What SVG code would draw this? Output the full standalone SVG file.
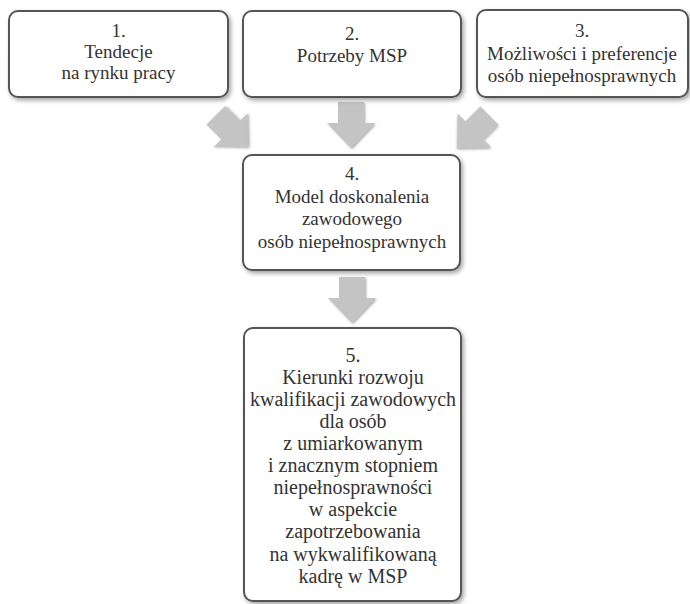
<svg xmlns="http://www.w3.org/2000/svg" width="690" height="604" viewBox="0 0 690 604">
  <defs>
    <filter id="bs" x="-10%" y="-10%" width="125%" height="125%">
      <feDropShadow dx="2" dy="2.5" stdDeviation="2" flood-color="#000" flood-opacity="0.35"/>
    </filter>
    <filter id="as" x="-20%" y="-20%" width="150%" height="150%">
      <feDropShadow dx="1.2" dy="1.2" stdDeviation="0.8" flood-color="#777" flood-opacity="0.6"/>
    </filter>
    <path id="arr" d="M-13,-46 L13,-46 L13,-25 L24,-25 L0,0 L-24,-25 L-13,-25 Z"/>
  </defs>
  <style>
    .box { fill: #fff; stroke: #555; stroke-width: 2; filter: url(#bs); }
    .t { font-family: "Liberation Serif", "Times New Roman", serif; font-size: 19px; fill: #333; text-anchor: middle; }
    .t5 { font-size: 20px; }
    .a { fill: #c4c4c4; filter: url(#as); }
  </style>
  <rect width="690" height="604" fill="#fff"/>

  <g id="connectors">
    <use href="#arr" class="a" transform="translate(248,148) rotate(-45)"/>
    <use href="#arr" class="a" transform="translate(351,148)"/>
    <use href="#arr" class="a" transform="translate(457,148) rotate(45)"/>
    <use href="#arr" class="a" transform="translate(352,323)"/>
  </g>

  <g id="node1">
    <rect class="box" x="9" y="11" width="219" height="86" rx="9"/>
    <text class="t" x="118.5" y="37">1.</text>
    <text class="t" x="118.5" y="58">Tendecje</text>
    <text class="t" x="118.5" y="79">na rynku pracy</text>
  </g>

  <g id="node2">
    <rect class="box" x="243" y="11" width="218" height="86" rx="9"/>
    <text class="t" x="352" y="40">2.</text>
    <text class="t" x="352" y="62">Potrzeby MSP</text>
  </g>

  <g id="node3">
    <rect class="box" x="477" y="10" width="211" height="87" rx="9"/>
    <text class="t" x="582" y="37">3.</text>
    <text class="t" x="582" y="60">Możliwości i preferencje</text>
    <text class="t" x="582" y="82">osób niepełnosprawnych</text>
  </g>

  <g id="node4">
    <rect class="box" x="243" y="155" width="217" height="115" rx="9"/>
    <text class="t" x="352" y="180">4.</text>
    <text class="t" x="352" y="202.5">Model doskonalenia</text>
    <text class="t" x="352" y="225">zawodowego</text>
    <text class="t" x="352" y="247.5">osób niepełnosprawnych</text>
  </g>

  <g id="node5">
    <rect class="box" x="244" y="328" width="217" height="273" rx="9"/>
    <text class="t t5" x="353" y="362">5.</text>
    <text class="t t5" x="353" y="384">Kierunki rozwoju</text>
    <text class="t t5" x="353" y="406">kwalifikacji zawodowych</text>
    <text class="t t5" x="353" y="428">dla osób</text>
    <text class="t t5" x="353" y="450">z umiarkowanym</text>
    <text class="t t5" x="353" y="472">i znacznym stopniem</text>
    <text class="t t5" x="353" y="494">niepełnosprawności</text>
    <text class="t t5" x="353" y="516">w aspekcie</text>
    <text class="t t5" x="353" y="538">zapotrzebowania</text>
    <text class="t t5" x="353" y="561">na wykwalifikowaną</text>
    <text class="t t5" x="353" y="583">kadrę w MSP</text>
  </g>
</svg>
